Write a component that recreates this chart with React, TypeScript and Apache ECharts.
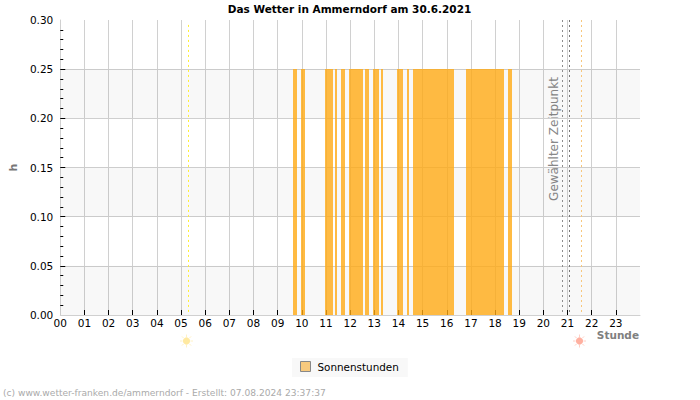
import React, { useEffect, useRef } from "react";
import * as echarts from "echarts";

// Sunshine runs in decimal hours, with the hourly sum drawn for each run.
const sunStart = [9.62, 9.95, 10.95, 11.37, 11.62, 11.95, 12.62, 12.95, 13.28, 13.95, 14.37, 14.62, 16.78, 18.53];
const sunEnd = [9.78, 10.12, 11.28, 11.45, 11.78, 12.53, 12.78, 13.2, 13.37, 14.2, 14.45, 16.28, 18.35, 18.7];
const sunValue = [0.25, 0.25, 0.25, 0.25, 0.25, 0.25, 0.25, 0.25, 0.25, 0.25, 0.25, 0.25, 0.25, 0.25];

const hourLabels = ["00", "01", "02", "03", "04", "05", "06", "07", "08", "09", "10", "11", "12", "13", "14", "15", "16", "17", "18", "19", "20", "21", "22", "23"];
const hourTicks = [1, 2, 3, 4, 5, 6, 7, 8, 9, 10, 11, 12, 13, 14, 15, 16, 17, 18, 19, 20, 21, 22, 23];
const valueTicks = [0.05, 0.1, 0.15, 0.2, 0.25];
const valueLabels = [0, 0.05, 0.1, 0.15, 0.2, 0.25, 0.3];

// Shaded horizontal bands behind the bars.
const bandFrom = [0, 0.1, 0.2];
const bandTo = [0.05, 0.15, 0.25];

const sunrise = 5.317;
const sunset = 21.58;
const selectedStart = 20.79;
const selectedEnd = 21.08;

const FONT = "DejaVu Sans";

// A small sun: disc with eight short rays.
function sunIcon(cx: number, cy: number, color: string) {
  const rays = [0, 1, 2, 3, 4, 5, 6, 7].map((i) => {
    const a = (i * Math.PI) / 4;
    return {
      type: "line",
      shape: {
        x1: cx + Math.cos(a) * 4,
        y1: cy + Math.sin(a) * 4,
        x2: cx + Math.cos(a) * 6.5,
        y2: cy + Math.sin(a) * 6.5,
      },
      style: { stroke: color, lineWidth: 1, opacity: 0.6 },
    };
  });
  return {
    type: "group",
    children: [{ type: "circle", shape: { cx, cy, r: 3.6 }, style: { fill: color } }, ...rays],
  };
}

function vLine(xAxis: number, color: string, dash: number[], y0: number) {
  return [
    { coord: [xAxis, y0], lineStyle: { color, type: dash, width: 1 } },
    { coord: [xAxis, 0] },
  ];
}

export default function App() {
  const ref = useRef<HTMLDivElement>(null);

  useEffect(() => {
    const chart = echarts.init(ref.current!, null, { renderer: "svg" });
    chart.setOption({
      animation: false,
      textStyle: { fontFamily: FONT },
      title: {
        text: "Das Wetter in Ammerndorf am 30.6.2021",
        left: 349.5,
        top: 3,
        padding: 0,
        textAlign: "center",
        textStyle: { fontFamily: FONT, fontSize: 10.5, fontWeight: "bold", color: "#000" },
      },
      legend: {
        left: 292,
        top: 358,
        padding: [3, 9, 5, 8],
        backgroundColor: "#f8f8f8",
        icon: "rect",
        itemWidth: 10,
        itemHeight: 10,
        itemGap: 0,
        textStyle: { fontFamily: FONT, fontSize: 10.4, color: "#000", padding: [0, 0, 0, 2] },
        data: [
          {
            name: "Sonnenstunden",
            itemStyle: { color: "#f8ca7e", borderColor: "#888", borderWidth: 1 },
          },
        ],
      },
      grid: { left: 60, right: 60, top: 20, bottom: 85, containLabel: false },
      xAxis: {
        type: "value",
        min: 0,
        max: 24,
        interval: 1,
        axisLine: { show: true, onZero: false, lineStyle: { color: "#d0d0d0" } },
        axisTick: {
          show: true,
          inside: true,
          length: 5,
          lineStyle: { color: "#000" },
          customValues: hourTicks,
        },
        axisLabel: {
          color: "#000",
          fontFamily: FONT,
          fontSize: 10.5,
          margin: 2,
          customValues: hourLabels.map((_, i) => i),
          formatter: (v: number) => hourLabels[v] ?? "",
        },
        splitLine: { show: true, lineStyle: { color: "#d0d0d0", width: 1 } },
      },
      yAxis: {
        type: "value",
        min: 0,
        max: 0.3,
        interval: 0.05,
        name: "h",
        nameLocation: "middle",
        nameGap: 40,
        nameTextStyle: { fontFamily: FONT, fontSize: 11, color: "#777", fontWeight: "bold" },
        axisLine: { show: true, lineStyle: { color: "#d0d0d0" } },
        axisTick: {
          show: true,
          inside: true,
          length: 5,
          lineStyle: { color: "#000" },
          customValues: valueTicks,
        },
        minorTick: { show: true, splitNumber: 5, length: 3, lineStyle: { color: "#000" } },
        axisLabel: {
          color: "#000",
          fontFamily: FONT,
          fontSize: 10.5,
          margin: 7,
          padding: [0, 0, 2, 0],
          customValues: valueLabels,
          formatter: (v: number) => v.toFixed(2),
        },
        splitLine: { show: true, lineStyle: { color: "#d0d0d0", width: 1 } },
      },
      series: [
        {
          type: "custom",
          silent: true,
          z: 1,
          data: bandFrom.map((f, i) => [f, bandTo[i]]),
          encode: { y: [0, 1] },
          renderItem: (params: any, api: any) => {
            const top = api.coord([0, api.value(1)]);
            const bottom = api.coord([0, api.value(0)]);
            return {
              type: "rect",
              shape: {
                x: params.coordSys.x,
                y: top[1],
                width: params.coordSys.width,
                height: bottom[1] - top[1],
              },
              style: { fill: "rgba(0,0,0,0.028)" },
            };
          },
        },
        {
          name: "Sonnenstunden",
          type: "custom",
          z: 2,
          data: sunStart.map((s, i) => [s, sunEnd[i], sunValue[i]]),
          encode: { x: [0, 1], y: 2 },
          renderItem: (_: unknown, api: any) => {
            const a = api.coord([api.value(0), api.value(2)]);
            const b = api.coord([api.value(1), 0]);
            return {
              type: "rect",
              shape: {
                x: Math.round(a[0]),
                y: Math.round(a[1]),
                width: Math.round(b[0]) - Math.round(a[0]),
                height: Math.round(b[1]) - Math.round(a[1]),
              },
              style: { fill: "rgba(255,170,20,0.8)" },
            };
          },
          markLine: {
            silent: true,
            symbol: "none",
            label: { show: false },
            data: [
              vLine(sunrise, "#ffee33", [2, 3], 0.295),
              vLine(sunset, "#f8c77b", [2, 3], 0.3),
              vLine(selectedStart, "#8c8c8c", [2, 3], 0.3),
              vLine(selectedEnd, "#777", [2, 3], 0.3),
            ],
          },
        },
      ],
      graphic: [
        {
          type: "text",
          x: 554,
          y: 139,
          rotation: Math.PI / 2,
          style: {
            text: "Gewählter Zeitpunkt",
            fontFamily: FONT,
            fontSize: 12,
            fill: "#888",
            textAlign: "center",
            textVerticalAlign: "middle",
          },
        },
        {
          type: "text",
          x: 639,
          y: 335,
          style: {
            text: "Stunde",
            fontFamily: FONT,
            fontSize: 10.5,
            fontWeight: "bold",
            fill: "#808080",
            textAlign: "right",
            textVerticalAlign: "middle",
          },
        },
        {
          type: "text",
          x: 3,
          y: 393,
          style: {
            text: "(c) www.wetter-franken.de/ammerndorf - Erstellt: 07.08.2024 23:37:37",
            fontFamily: FONT,
            fontSize: 9.1,
            fill: "#aaa",
            textAlign: "left",
            textVerticalAlign: "middle",
          },
        },
        sunIcon(186.5, 341, "#ffe9a0"),
        sunIcon(579.5, 341, "#ffb0a0"),
      ],
    });
    return () => chart.dispose();
  }, []);

  return (
    <div
      ref={ref}
      style={{ position: "absolute", left: 0, top: 0, width: 700, height: 400, background: "#fff" }}
    />
  );
}
